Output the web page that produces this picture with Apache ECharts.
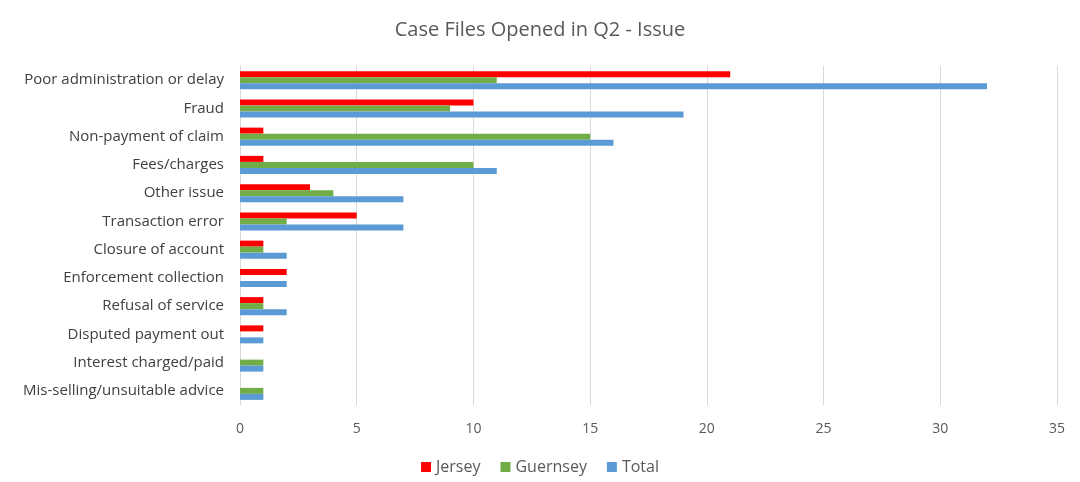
<!DOCTYPE html>
<html><head><meta charset="utf-8">
<script src="https://cdn.jsdelivr.net/npm/echarts@6/dist/echarts.min.js"></script>
<style>html,body{margin:0;padding:0;background:#fff}#c{width:1080px;height:482px}</style>
</head><body><div id="c"></div>
<script>
const categories = ["Poor administration or delay","Fraud","Non-payment of claim","Fees/charges","Other issue","Transaction error","Closure of account","Enforcement collection","Refusal of service","Disputed payment out","Interest charged/paid","Mis-selling/unsuitable advice"];
const jersey = [21,10,1,1,3,5,1,2,1,1,0,0];
const guernsey = [11,9,15,10,4,2,1,0,1,0,1,1];
const total = [32,19,16,11,7,7,2,2,2,1,1,1];
const xTicks = {min:0,max:35,interval:5};
const font = "'Open Sans', 'Noto Sans', sans-serif";
const chart = echarts.init(document.getElementById('c'));
const mk = (name, data, color) => ({name, type:'bar', data, itemStyle:{color}, barWidth:6, barGap:'0%'});
chart.setOption({
  animation:false,
  title:{text:'Case Files Opened in Q2 - Issue', left:'center', top:15,
    textStyle:{fontFamily:font, fontSize:20, fontWeight:'normal', color:'#595959'}},
  legend:{bottom:2, left:'center', itemWidth:10, itemHeight:10, itemGap:20, icon:'rect',
    textStyle:{fontFamily:font, fontSize:16, color:'#595959'}},
  grid:{left:240, right:23, top:66, bottom:77, containLabel:false},
  xAxis:{type:'value', min:xTicks.min, max:xTicks.max, interval:xTicks.interval,
    axisLine:{show:false}, axisTick:{show:false},
    splitLine:{lineStyle:{color:'#D9D9D9'}},
    axisLabel:{fontFamily:font, fontSize:14, color:'#595959', margin:17}},
  yAxis:{type:'category', data:categories, inverse:true,
    axisLine:{show:true, lineStyle:{color:'#D9D9D9'}}, axisTick:{show:false},
    axisLabel:{fontFamily:font, fontSize:15, color:'#404040', margin:16}},
  series:[mk('Jersey',jersey,'#FF0000'), mk('Guernsey',guernsey,'#70AD47'), mk('Total',total,'#5B9BD5')]
});
</script></body></html>
